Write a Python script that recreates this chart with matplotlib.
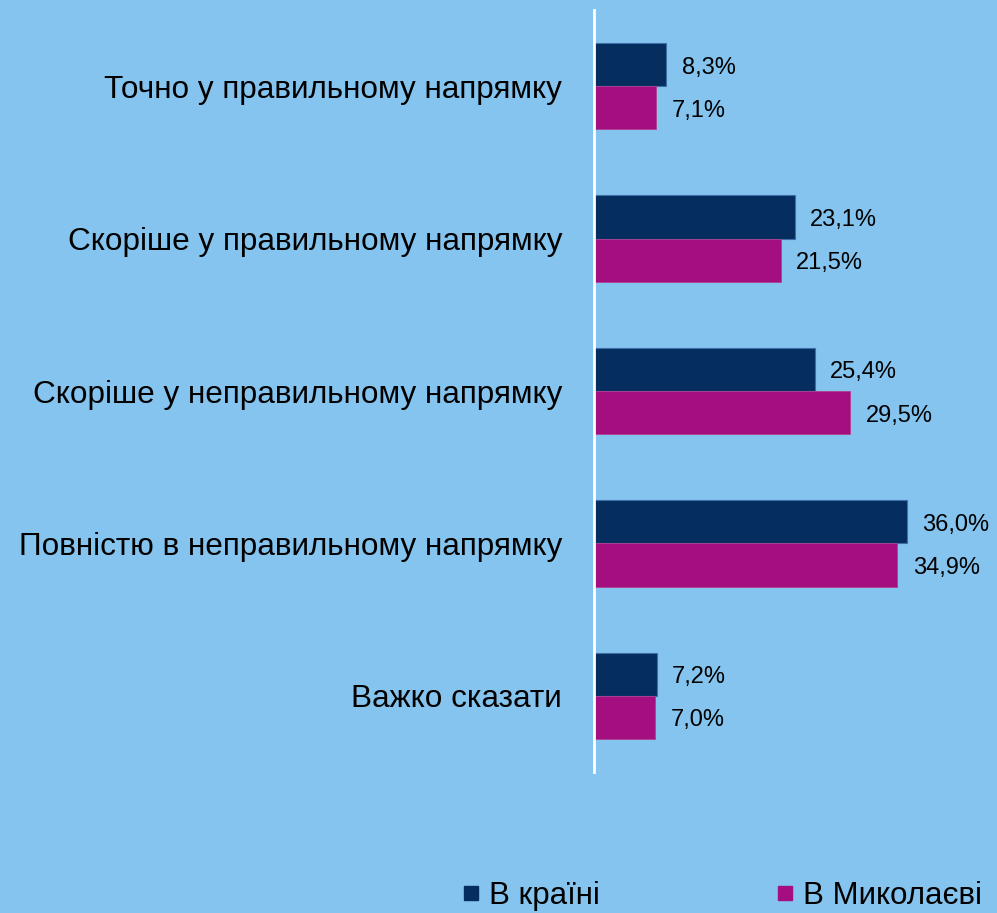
import matplotlib
matplotlib.use("Agg")
import matplotlib.pyplot as plt
import numpy as np
from matplotlib.lines import Line2D

categories = ["Точно у правильному напрямку", "Скоріше у правильному напрямку",
              "Скоріше у неправильному напрямку", "Повністю в неправильному напрямку",
              "Важко сказати"]
country = [8.3, 23.1, 25.4, 36.0, 7.2]
mykolaiv = [7.1, 21.5, 29.5, 34.9, 7.0]
series_names = ["В країні", "В Миколаєві"]

bg = "#85C4EE"
c1 = "#052E5F"
c2 = "#A50E7E"

plt.rcParams['font.family'] = ['Liberation Sans', 'DejaVu Sans']

fig = plt.figure(figsize=(9.97, 9.13), dpi=100, facecolor=bg)
ax = fig.add_axes([594/997, (913-772)/913, 403/997, 762/913])
ax.set_facecolor(bg)

y = np.arange(len(categories))
h = 0.283
b1 = ax.barh(y - h/2, country, height=h, color=c1, edgecolor="#3F6FA8", linewidth=0.8)
b2 = ax.barh(y + h/2, mykolaiv, height=h, color=c2, edgecolor="#B0408F", linewidth=0.6)

ax.set_xlim(0, 46.4)
ax.set_ylim(len(categories) - 0.5, -0.5)
for s in ["top", "right", "bottom"]:
    ax.spines[s].set_visible(False)
ax.spines["left"].set_color("white")
ax.spines["left"].set_linewidth(2)
ax.set_xticks([])
ax.set_yticks(y)
ax.set_yticklabels(categories, fontsize=22.7)
ax.tick_params(axis="y", length=0, pad=23)

for bars, vals in ((b1, country), (b2, mykolaiv)):
    for rect, v in zip(bars, vals):
        ax.text(rect.get_width() + 1.8, rect.get_y() + rect.get_height()/2 + 0.02,
                f"{v:.1f}%".replace(".", ","), va="center", ha="left", fontsize=17)

handles = [Line2D([], [], marker="s", linestyle="none", markersize=10, color=c1),
           Line2D([], [], marker="s", linestyle="none", markersize=10, color=c2)]
fig.legend(handles, series_names, loc="center", bbox_to_anchor=(0.724, (913-896)/913),
           ncol=2, frameon=False, fontsize=22.5, handlelength=0.6, handletextpad=0.3,
           columnspacing=5.6, borderaxespad=0)

fig.savefig("out.png", dpi=100, facecolor=bg)
